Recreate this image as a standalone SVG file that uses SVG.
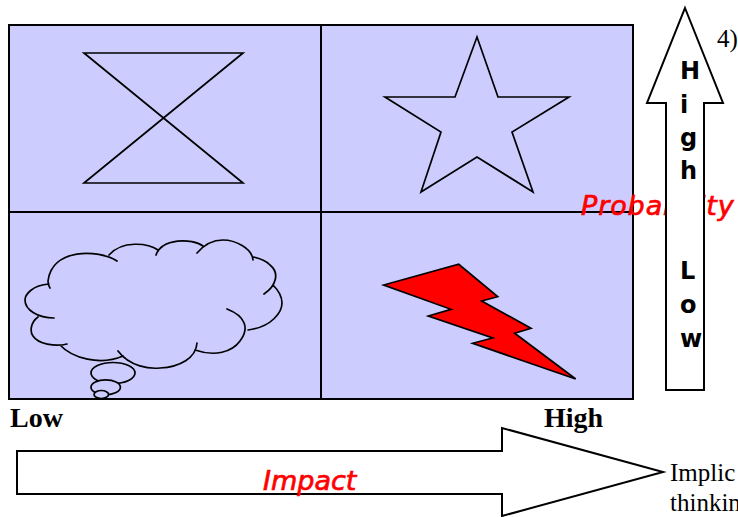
<svg xmlns="http://www.w3.org/2000/svg" width="738" height="517" viewBox="0 0 738 517">
<style>
.l{stroke:#000;stroke-width:2;fill:none}
.s{stroke:#000;stroke-width:1.7;fill:none;stroke-linejoin:miter}
.a{stroke:#000;stroke-width:2;fill:#fff;stroke-linejoin:miter}
.b{fill:#ccf;stroke:#000;stroke-width:1.7}
.r{font-family:"DejaVu Sans",sans-serif;font-style:oblique;fill:#f00;stroke:#f00;stroke-width:.7}
.v{font-family:"DejaVu Sans",sans-serif;font-weight:bold;font-size:24px;fill:#000}
.t{font-family:"Liberation Serif",serif;font-size:25px;fill:#000}
.h{font-family:"Liberation Serif",serif;font-size:28px;font-weight:bold;fill:#000}
</style>
<rect width="738" height="517" fill="#fff"/>
<g id="grid">
<rect x="9" y="25" width="624" height="374" fill="#ccf" stroke="#000" stroke-width="2"/>
<path class="l" d="M321 25V399M9 212H633"/>
</g>
<g id="hourglass"><path class="s" d="M84 53H243L84 183H243Z"/></g>
<g id="star"><path class="s" d="M477 37L498 97H569L512 132L533 192L477 157L421 192L441 132L385 97H455Z"/></g>
<g id="cloud">
<path class="s" stroke-linecap="round" d="M117 261C98 249 52 248 48 281Q48 285 50 288M49 284C32 285 25 295 25 300C25 310 38 318 54 318M38 317C30 323 30 332 33 336C38 344 55 347 67 344M60 345C72 358 100 366 123 356M118 351C130 367 150 369 160 368C180 367 196 358 197 343M195 350C215 357 232 352 240 341C250 328 245 316 227 309M248 330C272 327 282 312 282 303C282 296 278 290 273 285M264 294C276 286 280 273 270 265C265 260 258 258 253 257M253 260C252 248 235 240 223 240C211 240 203 246 197 253M203 246C192 238 162 238 156 255M158 250C148 243 122 240 109 255"/>
<ellipse class="b" cx="113" cy="373" rx="22" ry="10.5"/>
<ellipse class="b" cx="105.7" cy="387.3" rx="14.7" ry="7.5"/>
<ellipse class="b" cx="101.3" cy="394.5" rx="7.3" ry="4"/>
</g>
<g id="lightning"><path d="M383.7 285L458.7 264.3L497.7 296.7L481.7 301L531 328.3L514.7 333.3L575.7 379L472.7 343.3L492.7 338L428.3 316L451 309.3Z" fill="#f00" stroke="#000" stroke-width="1.7"/></g>
<text class="t" x="717" y="47" fill="#222">4)</text>
<text class="r" x="581" y="215" font-size="27" letter-spacing="0.9">Probability</text>
<g id="probability-arrow">
<path class="a" d="M685 8L723 103H704V390H666V103H647Z"/>
<text class="v" x="680" y="79">H</text>
<text class="v" x="680" y="113">i</text>
<text class="v" x="680" y="146">g</text>
<text class="v" x="680" y="179">h</text>
<text class="v" x="680" y="279">L</text>
<text class="v" x="680" y="313">o</text>
<text class="v" x="680" y="347">w</text>
</g>
<g id="impact-arrow">
<path class="a" d="M17 451H502V428L663 472L502 516V494H17Z"/>
<text class="r" x="263" y="490" font-size="27">Impact</text>
</g>
<text class="h" x="10" y="427">Low</text>
<text class="h" x="544" y="427">High</text>
<text class="t" x="670" y="481">Implic</text>
<text class="t" x="670" y="511">thinkin</text>
</svg>
